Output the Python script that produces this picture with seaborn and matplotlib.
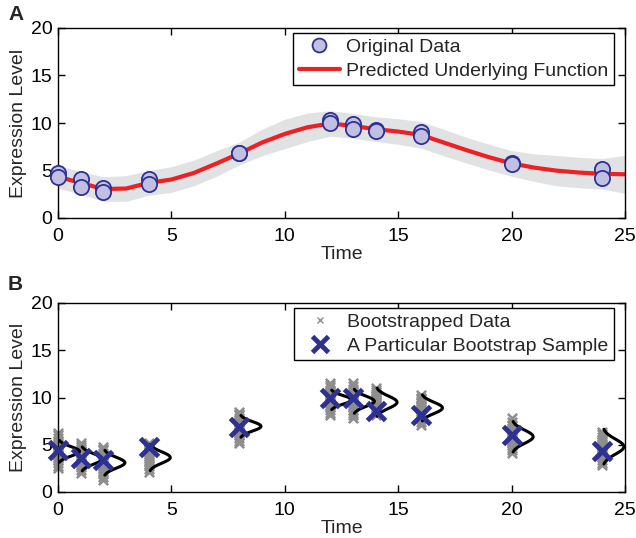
import numpy as np
import pandas as pd
import matplotlib
matplotlib.use("Agg")
import matplotlib.pyplot as plt
import seaborn as sns
from matplotlib.lines import Line2D

# ---- data ----
obs_time = [0, 0, 1, 1, 2, 2, 4, 4, 8, 8, 12, 12, 13, 13, 14, 14, 16, 16, 20, 20, 24, 24]
obs_value = [4.75, 4.3, 4.1, 3.25, 3.2, 2.7, 4.1, 3.55, 6.85, 6.8, 10.35, 10.0,
             9.85, 9.35, 9.3, 9.2, 9.0, 8.6, 5.8, 5.7, 5.15, 4.2]

pred_time = list(range(0, 26))
pred_value = [4.35, 3.7, 3.05, 3.1, 3.7, 4.05, 4.75, 5.75, 6.8, 7.95, 8.85, 9.55,
              9.95, 9.7, 9.35, 9.1, 8.75, 7.95, 7.15, 6.4, 5.75, 5.3, 4.98, 4.78, 4.65, 4.6]
pred_halfwidth = [1.2, 1.2, 1.3, 1.35, 1.3, 1.35, 1.35, 1.35, 1.2, 1.4, 1.55, 1.5, 1.35,
                  1.3, 1.3, 1.35, 1.4, 1.4, 1.35, 1.35, 1.35, 1.45, 1.6, 1.6, 1.6, 2.0]

boot_times = [0, 1, 2, 4, 8, 12, 13, 14, 16, 20, 24]
boot_values = [
    [2.5, 2.8, 3.1, 3.4, 3.7, 3.9, 4.1, 4.3, 4.5, 4.7, 4.9, 5.1, 5.4, 5.7, 6.0, 6.2],
    [2.0, 2.3, 2.6, 2.9, 3.1, 3.3, 3.5, 3.7, 3.9, 4.1, 4.3, 4.5, 4.8, 5.0, 5.2],
    [1.3, 1.6, 1.9, 2.2, 2.5, 2.7, 2.9, 3.1, 3.3, 3.5, 3.7, 3.9, 4.1, 4.4, 4.6, 4.8],
    [2.15, 2.4, 2.7, 3.0, 3.2, 3.4, 3.6, 3.8, 4.0, 4.2, 4.4, 4.6, 4.8, 5.0, 5.2],
    [5.15, 5.4, 5.7, 6.0, 6.2, 6.4, 6.6, 6.8, 7.0, 7.2, 7.4, 7.6, 7.8, 8.1, 8.3, 8.5],
    [8.15, 8.4, 8.7, 9.0, 9.2, 9.4, 9.6, 9.8, 10.0, 10.2, 10.4, 10.6, 10.8, 11.1, 11.3, 11.5],
    [7.8, 8.1, 8.4, 8.7, 9.0, 9.2, 9.4, 9.6, 9.8, 10.0, 10.2, 10.4, 10.6, 10.9, 11.2, 11.5],
    [8.2, 8.5, 8.8, 9.0, 9.2, 9.4, 9.6, 9.8, 10.0, 10.2, 10.4, 10.6, 10.8, 11.0],
    [7.1, 7.4, 7.7, 8.0, 8.2, 8.4, 8.6, 8.8, 9.0, 9.2, 9.4, 9.6, 9.8, 10.0, 10.3],
    [4.1, 4.4, 4.7, 5.0, 5.2, 5.4, 5.6, 5.8, 6.0, 6.2, 6.4, 6.6, 6.8, 7.1, 7.4, 7.8],
    [2.85, 3.1, 3.4, 3.7, 3.9, 4.1, 4.3, 4.5, 4.7, 4.9, 5.1, 5.3, 5.5, 5.8, 6.1, 6.4],
]
sample_value = [4.45, 3.55, 3.4, 4.8, 6.9, 10.0, 9.9, 8.55, 8.1, 6.0, 4.3]
dens_mean = [4.3, 3.5, 3.1, 3.65, 6.95, 9.75, 9.6, 9.5, 8.9, 5.85, 4.8]
dens_sd = [0.5, 0.55, 0.57, 0.6, 0.5, 0.45, 0.55, 0.65, 0.6, 0.7, 0.8]

# ---- style ----
sns.set_style("ticks")
plt.rcParams["font.family"] = ["Liberation Sans", "DejaVu Sans"]
plt.rcParams["font.size"] = 14

navy = "#2e3192"
lavender = "#c2c0e2"
red = "#ed2024"
band = "#e1e2e4"
grey = "#8e8e8e"

fig = plt.figure(figsize=(6.36, 5.38), dpi=100)
ax1 = fig.add_axes([58 / 636, 1 - 218 / 538, 567 / 636, 190 / 538])
ax2 = fig.add_axes([58 / 636, 1 - 492 / 538, 567 / 636, 189 / 538])

legend_kw = dict(loc="upper right", bbox_to_anchor=(0.98, 0.975), frameon=True,
                 fancybox=False, edgecolor="black", framealpha=1, borderpad=0.3,
                 handlelength=2.1, handletextpad=0.3, labelspacing=0.3, borderaxespad=0,
                 fontsize=14)

# ---- panel A ----
pred = pd.DataFrame({"Time": pred_time, "Value": pred_value, "hw": pred_halfwidth})
ax1.fill_between(pred["Time"], pred["Value"] - pred["hw"], pred["Value"] + pred["hw"],
                 color=band, linewidth=0, zorder=1)
sns.lineplot(data=pred, x="Time", y="Value", ax=ax1, color=red, linewidth=3, zorder=2)
obs = pd.DataFrame({"Time": obs_time, "Value": obs_value})
sns.scatterplot(data=obs, x="Time", y="Value", ax=ax1, s=120, color=lavender,
                edgecolor=navy, linewidth=1.3, zorder=3, clip_on=False)

h1 = [Line2D([], [], ls="none", marker="o", markersize=10, markerfacecolor=lavender,
             markeredgecolor=navy, markeredgewidth=1.3),
      Line2D([], [], color=red, linewidth=3)]
ax1.legend(h1, ["Original Data", "Predicted Underlying Function"], **legend_kw)

# ---- panel B ----
boot = pd.DataFrame({"Time": [t for t, vals in zip(boot_times, boot_values) for _ in vals],
                     "Value": [v for vals in boot_values for v in vals]})
sns.scatterplot(data=boot, x="Time", y="Value", ax=ax2, marker="x", s=45,
                color=grey, linewidth=1.8, zorder=2, clip_on=False)
for t, m, sd in zip(boot_times, dens_mean, dens_sd):
    yy = np.linspace(m - 2.3 * sd, m + 2.3 * sd, 60)
    xx = t + 0.95 * np.exp(-0.5 * ((yy - m) / sd) ** 2)
    ax2.plot(xx, yy, color="black", linewidth=2.2, zorder=3, clip_on=False)
samp = pd.DataFrame({"Time": boot_times, "Value": sample_value})
sns.scatterplot(data=samp, x="Time", y="Value", ax=ax2, marker="x", s=170,
                color=navy, linewidth=3.5, zorder=4, clip_on=False)

h2 = [Line2D([], [], ls="none", marker="x", markersize=5, color=grey, markeredgewidth=1),
      Line2D([], [], ls="none", marker="x", markersize=12, color=navy, markeredgewidth=3.5)]
ax2.legend(h2, ["Bootstrapped Data", "A Particular Bootstrap Sample"], **legend_kw)

for ax in (ax1, ax2):
    ax.set_xlim(0, 25)
    ax.set_ylim(0, 20)
    ax.set_xticks([0, 5, 10, 15, 20, 25])
    ax.set_yticks([0, 5, 10, 15, 20])
    ax.set_xlabel("Time", fontsize=14, labelpad=1)
    ax.set_ylabel("Expression Level", fontsize=14, labelpad=3)
    ax.tick_params(direction="in", top=True, right=True, length=5, width=1,
                   labelsize=14, colors="black")
    ax.tick_params(axis="x", pad=7)
    ax.tick_params(axis="y", pad=4)
    for s in ax.spines.values():
        s.set_visible(True)
        s.set_linewidth(1)
        s.set_color("black")

fig.text(8 / 636, 1 - 15 / 538, "A", fontsize=15, fontweight="bold", va="center", ha="left")
fig.text(8 / 636, 1 - 285 / 538, "B", fontsize=15, fontweight="bold", va="center", ha="left")

fig.savefig("out.png", dpi=100)
